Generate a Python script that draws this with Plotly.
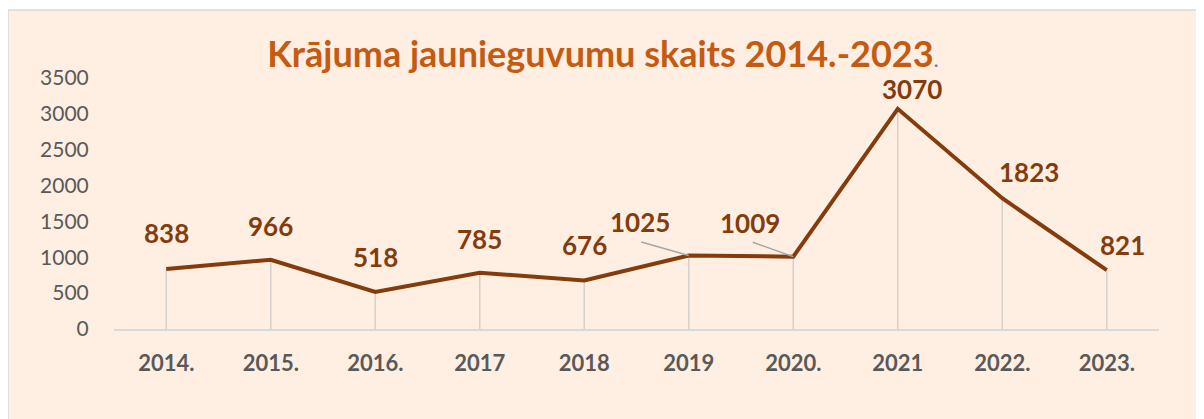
import plotly.graph_objects as go

years = ["2014.", "2015.", "2016.", "2017", "2018", "2019", "2020.", "2021", "2022.", "2023."]
values = [838, 966, 518, 785, 676, 1025, 1009, 3070, 1823, 821]
y_ticks = [0, 500, 1000, 1500, 2000, 2500, 3000, 3500]

# label offsets (pixels) relative to each point: (xshift, yshift)
label_shift = [(0, 36), (0, 34), (0, 35), (0, 34), (0, 36),
               (-49, 33), (-43, 34), (14, 20), (27, 26), (16, 25)]
leader = {5: (-49, -14), 6: (-42, -15)}

LINE = "#843C0C"
FONT = "Lato"

idx = list(range(len(years)))

# page body has an 8px margin -> figure coordinates = screen - 8
OFF = 8
FW, FH = 1204 - OFF, 419 - OFF

fig = go.Figure()
# drop lines
fig.add_trace(go.Scatter(
    x=idx, y=values, mode="markers",
    marker=dict(size=1, color="rgba(0,0,0,0)"),
    error_y=dict(type="data", symmetric=False, array=[0] * len(values),
                 arrayminus=values, width=0, color="#D6D0CB", thickness=1.5),
    hoverinfo="skip", showlegend=False))
fig.add_trace(go.Scatter(
    x=idx, y=values, mode="lines",
    line=dict(color=LINE, width=4), showlegend=False))

# plot area (screen) 114..1159 x, 78..329 y
L, R, T, B = 114 - OFF, 1159 - OFF, 78 - OFF, 329 - OFF
W, H = R - L, B - T
def px(v):
    return (v - OFF - L) / W
def py(v):
    return (B - (v - OFF)) / H

fig.add_shape(type="rect", xref="paper", yref="paper",
              x0=px(8), x1=px(1198), y0=py(440), y1=py(10),
              fillcolor="#FEEFE2", line=dict(color="#D9D9D9", width=1.5),
              layer="below")

annotations = []
for i, v in enumerate(values):
    xs, ys = label_shift[i]
    annotations.append(dict(x=i, y=v, xref="x", yref="y", text=f"<b>{v}</b>",
                            showarrow=False, xshift=xs, yshift=ys,
                            font=dict(family=FONT, size=26, color=LINE),
                            xanchor="center", yanchor="middle"))
    if i in leader:
        ax, ay = leader[i]
        annotations.append(dict(x=i, y=v, xref="x", yref="y", text=" ",
                                font=dict(size=1), showarrow=True, arrowhead=0,
                                arrowwidth=1.5, arrowcolor="#A6A6A6",
                                ax=ax, ay=ay, standoff=0, startstandoff=0))

fig.update_layout(
    width=FW, height=FH,
    margin=dict(l=L, r=FW - R, t=T, b=FH - B),
    paper_bgcolor="white",
    plot_bgcolor="#FAE5D8",
    title=dict(text="<b>Krājuma jaunieguvumu skaits 2014.-2023</b><span style='color:#7F7F7F;font-size:22px'>.</span>",
               x=(603 - OFF) / FW, xanchor="center", xref="container",
               y=1 - (54 - OFF) / FH, yanchor="middle", yref="container",
               font=dict(family=FONT, size=36, color="#C55A11")),
    annotations=annotations,
    xaxis=dict(range=[-0.5, len(years) - 0.5], tickmode="array", tickvals=idx,
               ticktext=[f"<b>{y}</b>" for y in years], showgrid=False,
               zeroline=False, showline=True, linecolor="#D9D9D9", linewidth=1.5,
               ticks="outside", ticklen=14, tickcolor="rgba(0,0,0,0)",
               tickfont=dict(family=FONT, size=22, color="#595959")),
    yaxis=dict(range=[0, 3500], tickmode="array", tickvals=y_ticks,
               showgrid=False, zeroline=False, showline=False,
               ticks="outside", ticklen=20, tickcolor="rgba(0,0,0,0)",
               tickfont=dict(family=FONT, size=21, color="#595959")),
    showlegend=False,
)

fig.write_html("out.html")
